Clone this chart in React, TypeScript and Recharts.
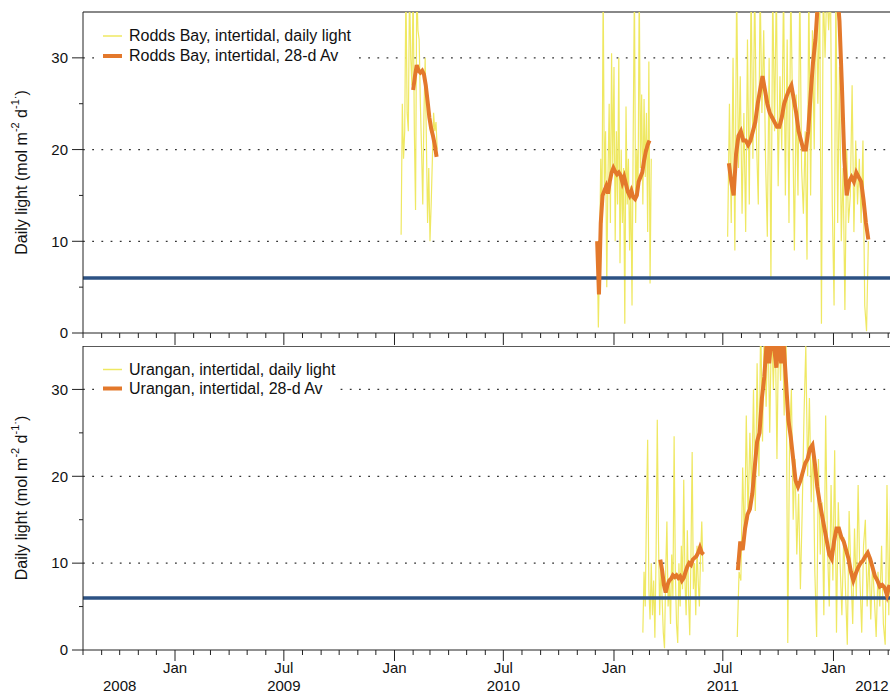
import React from 'react'
import { LineChart, Line, XAxis, YAxis, CartesianGrid, ReferenceLine, Legend } from 'recharts'

// x range of both panels
const xStart = '2008-08-01'
const xEnd = '2012-04-04'
const threshold = 6
const yMax = 35

// each block: first date, step in days, readings (mol m-2 d-1)
const roddsDaily = [
  { start: '2010-01-12', step: 2, values: [10.7, 25, 19, 22, 38, 24, 22, 38, 30, 27, 38, 22, 13.4, 38, 33, 32, 25, 20, 14, 24, 30, 21, 12, 18, 10, 14, 19, 24, 22, 23, 20] },
  { start: '2010-12-04', step: 2, values: [10, 0.6, 8, 19, 12, 38, 16, 22, 5, 17, 25, 12, 30.5, 18, 29, 10, 22, 14, 30, 7.6, 20, 12, 18, 1, 24.7, 14, 19, 9, 16, 3, 22, 38, 12, 20, 15, 38, 18, 26, 14, 25.5, 17, 24, 11, 29.6, 5.4, 19] },
  { start: '2011-07-09', step: 3, values: [10.5, 25, 12, 30, 9, 38, 18, 28, 13, 24, 11, 32, 14, 38, 19, 38, 21, 14, 38, 24, 33, 19, 10.5, 30, 6, 38, 22, 38, 16, 28, 20, 38, 15, 32, 12, 38, 24, 9, 26, 15, 38, 18, 13, 22, 8, 38, 15, 33, 20, 38, 25, 38, 1, 38, 30, 38, 33, 38, 14, 3, 38, 12, 29, 10, 18, 2.5, 20, 12, 15, 27, 11, 21, 14, 19, 12, 21, 3, 0.2, 10] },
]

const roddsAvg = [
  { start: '2010-02-01', step: 3, values: [26.5, 28, 29.2, 28.6, 28.4, 28.6, 28.2, 27, 25.3, 23.5, 22.3, 21.5, 20.5, 19.2] },
  { start: '2010-12-04', step: 3, values: [10, 4.2, 12, 15, 15.5, 16, 15.2, 16.5, 17.5, 18, 17.6, 17.3, 17.5, 17.2, 16.4, 17, 16.2, 15.4, 15, 15.5, 14.8, 14.6, 15, 16.5, 17, 17.5, 18.8, 19.8, 20.5, 21] },
  { start: '2011-07-11', step: 4, values: [18.5, 16.5, 15, 19.5, 21.5, 22, 21, 21, 20.5, 21, 22, 23, 25, 26.5, 28, 26.5, 25, 24, 23.5, 23, 22.5, 22.5, 23.5, 25, 25.8, 26.5, 27, 25.5, 24, 22, 21, 20, 20, 22, 26, 29.5, 32, 36, 40, 43, 44, 44, 43, 41, 39.5, 37.5, 34, 27, 19, 15, 16.5, 17, 16.5, 17.5, 17, 16.5, 14.5, 12, 10.2] },
]

const uranganDaily = [
  { start: '2011-02-18', step: 2, values: [2, 9, 5, 16, 24.2, 7, 3.5, 10, 4, 8, 1.4, 11, 26.5, 12.7, 4, 10, 6, 2, 0.2, 9, 14.8, 5, 8, 3, 11, 6, 24.6, 9, 3, 0.8, 10, 5, 12, 7, 19.6, 8, 4, 13.8, 6, 1.7, 11, 22.8, 7, 10, 4, 12, 8, 5, 11, 14.8, 9] },
  { start: '2011-07-25', step: 3, values: [1.5, 9, 8, 21, 12, 27, 15, 25, 18, 30, 16, 33, 20, 38, 24, 38, 28, 38, 25, 38, 30, 38, 22, 38, 31, 38, 27, 38, 0.8, 24, 30, 15, 22, 11, 18, 7, 16, 27, 35, 20, 29, 17, 24, 9, 1.5, 22, 11, 17, 4, 27, 12, 5, 19, 8, 23, 2, 17, 10, 4, 13, 7, 0.6, 16, 9, 3, 14, 6, 19, 8, 2, 12, 15, 5, 11, 3.5, 10, 6, 1.5, 9, 5, 12, 3, 0.6, 19, 4, 18] },
]

const uranganAvg = [
  { start: '2011-03-19', step: 3, values: [10.4, 9.2, 7.5, 6.6, 7.5, 8, 8.2, 8.6, 8.4, 8.6, 8.3, 8.5, 8, 8.3, 9, 9.6, 10, 9.8, 10.4, 10.6, 10.8, 11.2, 11.8, 11.2, 11] },
  { start: '2011-07-26', step: 4, values: [9.2, 12.5, 11.5, 14, 15.6, 16.2, 18, 21, 24, 25, 29, 31.5, 35.5, 33, 36, 35, 32.5, 36, 33, 35.5, 31, 26.5, 24.5, 22, 19.5, 18.8, 19.5, 20.5, 21.5, 22, 23.2, 23.6, 21.5, 18.8, 17, 15.5, 14, 12.5, 11, 10.5, 12.5, 14, 14, 13, 12.5, 11.5, 10.5, 9, 8, 8.8, 9.5, 10, 10.3, 10.8, 11.2, 10.5, 9.5, 8.5, 8, 7.3, 7.5, 7.2, 6.3, 7.5] },
]

const monthNames: Record<number, string> = { 0: 'Jan', 6: 'Jul' }
const yearNames = ['2008', '2009', '2010', '2011', '2012']
const yearDates = ['2008-10-01', '2009-07-01', '2010-07-01', '2011-07-01', '2012-03-05']
const yTicks = [0, 5, 10, 15, 20, 25, 30]
const gridValues = [10, 20, 30]

const DAY = 86400000
const font = '"Liberation Sans", Arial, Helvetica, sans-serif'
const yellow = '#efe862'
const orange = '#e3782b'
const blue = '#2d5284'

function toTime(s: string) {
  const [y, m, d] = s.split('-').map(Number)
  return Date.UTC(y, m - 1, d)
}

function toSeries(blocks: { start: string; step: number; values: number[] }[]) {
  const out: { t: number; v: number | null }[] = []
  blocks.forEach((b, bi) => {
    const t0 = toTime(b.start)
    if (bi > 0) out.push({ t: t0 - DAY, v: null })
    b.values.forEach((v, i) => out.push({ t: t0 + i * b.step * DAY, v }))
  })
  return out
}

const t0 = toTime(xStart)
const t1 = toTime(xEnd)
const thresholdData = [{ t: t0, v: threshold }, { t: t1, v: threshold }]
const yearTimes = yearDates.map(toTime)

const monthTicks: number[] = []
for (let y = 2008, m = 7; y < 2012 || m <= 3; ) {
  monthTicks.push(Date.UTC(y, m, 1))
  m++
  if (m === 12) { m = 0; y++ }
}
const xTicks = Array.from(new Set([...monthTicks, ...yearTimes])).sort((a, b) => a - b)

function XTick(props: any) {
  const { x, y, payload, showText, majorLen } = props
  const t = payload.value
  const d = new Date(t)
  const isMonth = d.getUTCDate() === 1
  const mName = isMonth ? monthNames[d.getUTCMonth()] : undefined
  const yi = yearTimes.indexOf(t)
  return (
    <g>
      {isMonth && <line x1={x} x2={x} y1={y} y2={y + (mName ? majorLen : 5)} stroke="#222" strokeWidth={1} />}
      {showText && mName && (
        <text x={x} y={y + 23} textAnchor="middle" fontSize={15} fontFamily={font} fill="#111">{mName}</text>
      )}
      {showText && yi >= 0 && (
        <text x={x} y={y + 41} textAnchor="middle" fontSize={15} fontFamily={font} fill="#111">{yearNames[yi]}</text>
      )}
    </g>
  )
}

function YTick(props: any) {
  const { x, y, payload } = props
  const major = payload.value % 10 === 0
  return (
    <g>
      <line x1={x - (major ? 11 : 4)} x2={x} y1={y} y2={y} stroke="#222" />
      {major && (
        <text x={x - 15} y={y} dy="0.35em" textAnchor="end" fontSize={15} fontFamily={font} fill="#111">{payload.value}</text>
      )}
    </g>
  )
}

function YLabel(props: any) {
  const vb = props.viewBox || { x: 0, y: 0, width: 83, height: 300 }
  const cx = vb.x + 21
  const cy = vb.y + vb.height / 2
  return (
    <text x={cx} y={cy} transform={`rotate(-90, ${cx}, ${cy})`} textAnchor="middle" dominantBaseline="central"
      fontSize={16} fontFamily={font} fill="#111">
      Daily light (mol m<tspan dy={-6} fontSize={11}>-2</tspan><tspan dy={6}> d</tspan>
      <tspan dy={-6} fontSize={11}>-1·</tspan><tspan dy={6}>)</tspan>
    </text>
  )
}

function makeLegend(names: string[], rowH: number) {
  return () => (
    <div style={{ background: '#fff', padding: '0 4px 0 6px', fontFamily: font, fontSize: 16, color: '#111' }}>
      {names.map((n, i) => (
        <div key={n} style={{ display: 'flex', alignItems: 'center', height: rowH, whiteSpace: 'nowrap' }}>
          <svg width={26} height={rowH}>
            <line x1={0} x2={19} y1={rowH / 2} y2={rowH / 2} stroke={i === 0 ? yellow : orange} strokeWidth={i === 0 ? 1.5 : 4} />
          </svg>
          <span>{n}</span>
        </div>
      ))}
    </div>
  )
}

function Panel(props: {
  daily: { t: number; v: number | null }[]
  avg: { t: number; v: number | null }[]
  names: string[]
  height: number
  top: number
  axisH: number
  bottom: boolean
  legendTop: number
  rowH: number
  topColor: string
  topWidth: number
}) {
  const { daily, avg, names, height, top, axisH, bottom, legendTop, rowH, topColor, topWidth } = props
  return (
    <LineChart width={890} height={height} margin={{ top, right: 0, bottom: 0, left: 0 }}>
      <CartesianGrid vertical={false} horizontalValues={gridValues} stroke="#333" strokeWidth={1.2} strokeDasharray="1.8 7.4" />
      <XAxis
        dataKey="t"
        type="number"
        domain={[t0, t1]}
        allowDataOverflow
        ticks={xTicks}
        interval={0}
        height={axisH}
        tickSize={0}
        tickMargin={0}
        stroke="#222"
        tickLine={false}
        tick={(p: any) => <XTick {...p} showText={bottom} majorLen={bottom ? 11 : 12} />}
      />
      <YAxis
        type="number"
        domain={[0, yMax]}
        allowDataOverflow
        ticks={yTicks}
        interval={0}
        width={83}
        tickSize={0}
        tickMargin={0}
        stroke="#222"
        tickLine={false}
        tick={(p: any) => <YTick {...p} />}
        label={<YLabel />}
      />
      <ReferenceLine y={yMax} stroke={topColor} strokeWidth={topWidth} />
      <Line data={daily} dataKey="v" stroke={yellow} strokeWidth={1.2} dot={false} isAnimationActive={false} connectNulls={false} />
      <Line data={thresholdData} dataKey="v" stroke={blue} strokeWidth={3.5} dot={false} isAnimationActive={false} />
      <Line data={avg} dataKey="v" stroke={orange} strokeWidth={4} dot={false} isAnimationActive={false} connectNulls={false} />
      <Legend
        layout="vertical"
        align="center"
        verticalAlign="middle"
        content={makeLegend(names, rowH)}
        wrapperStyle={{ left: 97, top: legendTop, width: 'auto', height: 'auto' }}
      />
    </LineChart>
  )
}

export default function App() {
  return (
    <div style={{ position: 'absolute', left: 0, top: 0, width: 890, height: 693, background: '#fff' }}>
      <Panel
        daily={toSeries(roddsDaily)}
        avg={toSeries(roddsAvg)}
        names={['Rodds Bay, intertidal, daily light', 'Rodds Bay, intertidal, 28-d Av']}
        height={346}
        top={12}
        axisH={13}
        bottom={false}
        legendTop={26}
        rowH={20}
        topColor="#888"
        topWidth={2}
      />
      <Panel
        daily={toSeries(uranganDaily)}
        avg={toSeries(uranganAvg)}
        names={['Urangan, intertidal, daily light', 'Urangan, intertidal, 28-d Av']}
        height={347}
        top={0}
        axisH={43}
        bottom={true}
        legendTop={14}
        rowH={19}
        topColor="#222"
        topWidth={1.5}
      />
    </div>
  )
}
